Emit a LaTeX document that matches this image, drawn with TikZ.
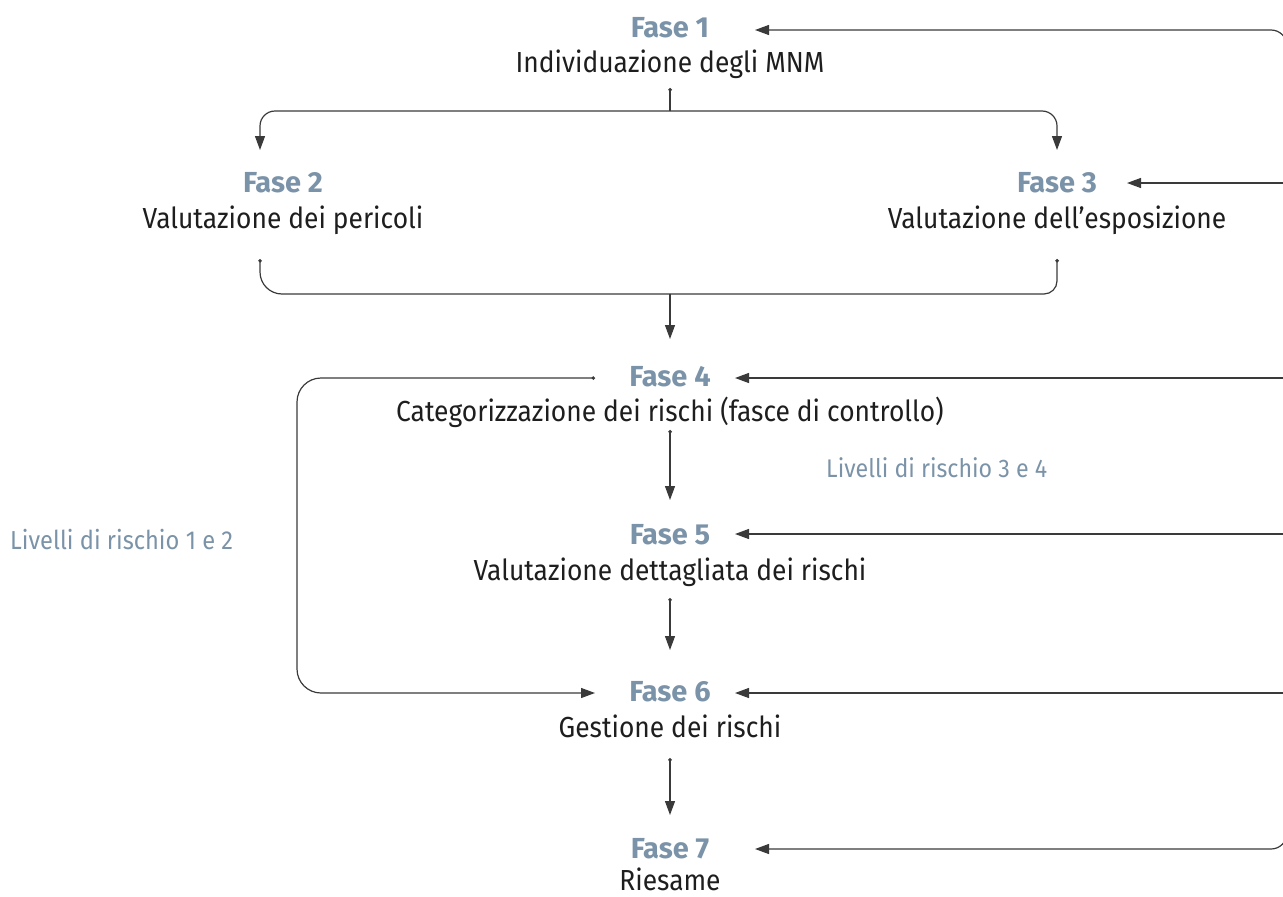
\documentclass[tikz,border=0pt]{standalone}
\usepackage{fontspec}
\setmainfont[FakeStretch=0.91]{Fira Sans}
\newfontfamily\fasefont{Fira Sans}
\usetikzlibrary{arrows.meta}
\definecolor{fasecol}{HTML}{7B93A8}
\definecolor{txtcol}{HTML}{1E1E1E}
\definecolor{lncol}{HTML}{3A3A3A}
\begin{document}
\begin{tikzpicture}[x=1pt,y=-1pt,
  fasestyle/.style={font=\fontsize{29}{33}\fasefont\bfseries, text=fasecol, inner sep=0pt, anchor=base},
  descstyle/.style={font=\fontsize{29}{33}\selectfont, text=txtcol, inner sep=0pt, anchor=base},
  notestyle/.style={font=\fontsize{26}{30}\selectfont, text=fasecol, inner sep=0pt, anchor=base west},
  conn/.style={draw=lncol, line width=1.2pt},
  arr/.style={conn, -{Triangle[length=14pt,width=10pt]}},
  dotarr/.style={conn, {Circle[length=3.5pt]}-{Triangle[length=14pt,width=10pt]}},
  dotline/.style={conn, {Circle[length=3.5pt]}-},
]
\useasboundingbox (0,0) rectangle (1283,897);

% nodes
\node[fasestyle] (f1) at (670,37) {Fase 1};
\node[descstyle] (d1) at (670,72) {Individuazione degli MNM};
\node[fasestyle] (f2) at (283,192) {Fase 2};
\node[descstyle] (d2) at (283,228) {Valutazione dei pericoli};
\node[fasestyle] (f3) at (1057,192) {Fase 3};
\node[descstyle] (d3) at (1057,228) {Valutazione dell’esposizione};
\node[fasestyle] (f4) at (670,386) {Fase 4};
\node[descstyle] (d4) at (670,421) {Categorizzazione dei rischi (fasce di controllo)};
\node[fasestyle] (f5) at (670,544) {Fase 5};
\node[descstyle] (d5) at (670,580) {Valutazione dettagliata dei rischi};
\node[fasestyle] (f6) at (670,701) {Fase 6};
\node[descstyle] (d6) at (670,737) {Gestione dei rischi};
\node[fasestyle] (f7) at (670,858) {Fase 7};
\node[descstyle] (d7) at (670,890) {Riesame};
\node[notestyle, font=\fontsize{25.5}{30}\selectfont] (n34) at (826,477) {Livelli di rischio 3 e 4};
\node[notestyle] (n12) at (10,549) {Livelli di rischio 1 e 2};

% coordinates
\coordinate (s1) at (670,88);
\coordinate (j1) at (670,111);
\coordinate (t2) at (260,150);
\coordinate (t3) at (1057,150);
\coordinate (b2) at (260,259);
\coordinate (b3) at (1057,259);
\coordinate (jb) at (670,294);
\coordinate (t4) at (670,339);
\coordinate (s45) at (670,430);
\coordinate (t45) at (670,500);
\coordinate (s56) at (670,598);
\coordinate (t56) at (670,650);
\coordinate (s67) at (670,758);
\coordinate (t67) at (670,815);
\coordinate (l4) at (595,378);
\coordinate (l6) at (595,693);
\coordinate (rmid) at (1287,450);

% top split
\draw[dotline] (s1) -- (j1);
\draw[arr, rounded corners=15pt] (j1) -- (j1 -| t2) -- (t2);
\draw[arr, rounded corners=15pt] (j1) -- (j1 -| t3) -- (t3);

% join bracket
\draw[dotline, rounded corners=22pt] (b2) -- (b2 |- jb) -- (jb);
\draw[dotline, rounded corners=13pt] (b3) -- (b3 |- jb) -- (jb);
\draw[arr] (jb) -- (t4);

% vertical flow
\draw[dotarr] (s45) -- (t45);
\draw[dotarr] (s56) -- (t56);
\draw[dotarr] (s67) -- (t67);

% left loop
\draw[dotarr, rounded corners=24pt] (l4) -- (297,378) -- (297,693) -- (l6);

% right feedback
\draw[arr, rounded corners=16pt] (rmid) -- (1287,30) -- (755,30);
\draw[arr, rounded corners=16pt] (rmid) -- (1287,849) -- (755,849);
\draw[arr] (1287,183) -- (1127,183);
\draw[arr] (1287,378) -- (735,378);
\draw[arr] (1287,534) -- (735,534);
\draw[arr] (1287,693) -- (735,693);
\end{tikzpicture}
\end{document}
